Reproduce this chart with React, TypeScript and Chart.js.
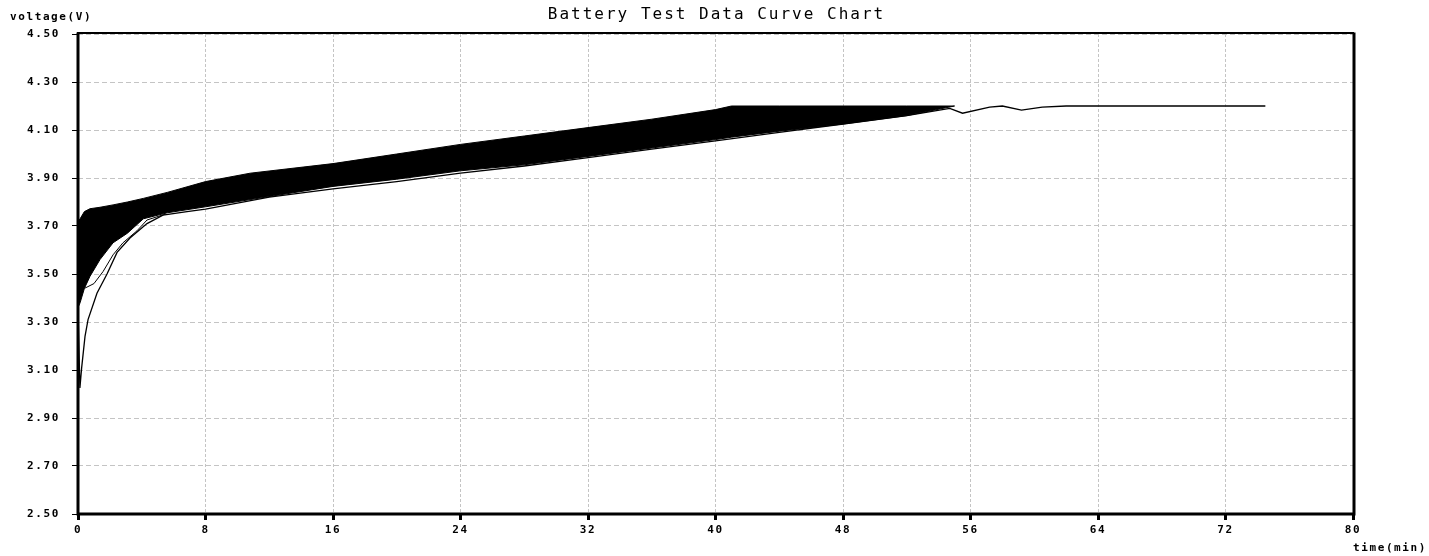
import React, { useEffect, useRef } from "react";
import { Chart, registerables } from "chart.js";

Chart.register(...registerables);

const chartTitle = "Battery Test Data Curve Chart";
const yAxisTitle = "voltage(V)";
const xAxisTitle = "time(min)";

// Dense band of many cells: upper and lower envelope
const bandTimes = [0, 0.13, 0.4, 0.75, 1.38, 2.2, 3.1, 4.1, 5.6, 8, 10.8, 16, 20, 24, 28, 32, 36, 40, 41, 44, 48, 52, 55];
const bandTop = [3.72, 3.73, 3.76, 3.772, 3.778, 3.788, 3.8, 3.815, 3.84, 3.885, 3.92, 3.96, 4.0, 4.04, 4.075, 4.11, 4.145, 4.185, 4.2, 4.2, 4.2, 4.2, 4.2];
const bandBottom = [3.36, 3.38, 3.44, 3.49, 3.56, 3.63, 3.67, 3.73, 3.755, 3.78, 3.81, 3.865, 3.895, 3.93, 3.955, 3.99, 4.025, 4.06, 4.07, 4.095, 4.125, 4.16, 4.2];

// Slowest cell curve (starts lowest)
const lowTimes = [0, 0.12, 0.23, 0.44, 0.63, 1.19, 1.82, 2.45, 3.26, 4.33, 5.33, 6.84, 8, 12, 16, 20, 24, 28, 32, 36, 40, 44, 48, 52, 54.7, 55.5, 57.2, 58, 59.2, 60.5, 62, 66, 70, 74.5];
const lowVolts = [3.36, 3.025, 3.11, 3.24, 3.31, 3.42, 3.5, 3.59, 3.65, 3.71, 3.745, 3.76, 3.77, 3.82, 3.855, 3.885, 3.92, 3.95, 3.985, 4.02, 4.055, 4.09, 4.125, 4.16, 4.19, 4.17, 4.195, 4.2, 4.183, 4.195, 4.2, 4.2, 4.2, 4.2];

// Second curve just below the band at the start
const innerTimes = [0.4, 1.0, 1.57, 2.2, 2.82, 3.7, 4.33, 5.5];
const innerVolts = [3.44, 3.46, 3.51, 3.58, 3.63, 3.68, 3.725, 3.75];

const yMin = 2.5;
const yMax = 4.5;
const yStep = 0.2;
const xMin = 0;
const xMax = 80;
const xStep = 8;

const zip = (xs: number[], ys: number[]) => xs.map((x, i) => ({ x, y: ys[i] }));

const MONO = '"DejaVu Sans Mono", "Liberation Mono", monospace';

export default function App() {
  const ref = useRef<HTMLCanvasElement | null>(null);

  useEffect(() => {
    if (!ref.current) return;
    const decor = {
      id: "decor",
      beforeDraw(chart: any) {
        const ctx = chart.ctx;
        ctx.fillStyle = "#ffffff";
        ctx.fillRect(0, 0, chart.width, chart.height);
        ctx.letterSpacing = "1.6px";
      },
      afterDraw(chart: any) {
        const ctx = chart.ctx;
        const a = chart.chartArea;
        ctx.save();
        ctx.strokeStyle = "#000";
        ctx.lineCap = "square";
        ctx.lineWidth = 2;
        ctx.beginPath();
        ctx.moveTo(a.left, a.top - 1);
        ctx.lineTo(a.right, a.top - 1);
        ctx.stroke();
        ctx.lineWidth = 3;
        ctx.beginPath();
        ctx.moveTo(a.left, a.top);
        ctx.lineTo(a.left, a.bottom);
        ctx.lineTo(a.right + 1, a.bottom);
        ctx.moveTo(a.right + 1, a.top);
        ctx.lineTo(a.right + 1, a.bottom);
        ctx.stroke();

        ctx.fillStyle = "#000";
        ctx.textBaseline = "middle";
        ctx.letterSpacing = "2px";
        ctx.font = `16px ${MONO}`;
        ctx.textAlign = "center";
        ctx.fillText(chartTitle, (a.left + a.right) / 2 + 1, 15);
        ctx.letterSpacing = "1.6px";
        ctx.font = `bold 11px ${MONO}`;
        ctx.textAlign = "left";
        ctx.fillText(yAxisTitle, 10, 17);
        ctx.fillText(xAxisTitle, a.right, 548);
        ctx.restore();
        ctx.letterSpacing = "0px";
      },
    };

    const chart = new Chart(ref.current, {
      type: "line",
      data: {
        datasets: [
          {
            label: "bandTop",
            data: zip(bandTimes, bandTop),
            borderColor: "#000",
            borderWidth: 1,
            pointRadius: 0,
            fill: false,
          },
          {
            label: "bandBottom",
            data: zip(bandTimes, bandBottom),
            borderColor: "#000",
            borderWidth: 1,
            pointRadius: 0,
            backgroundColor: "#000",
            fill: "-1",
          },
          {
            label: "inner",
            data: zip(innerTimes, innerVolts),
            borderColor: "#000",
            borderWidth: 1,
            pointRadius: 0,
            fill: false,
          },
          {
            label: "low",
            data: zip(lowTimes, lowVolts),
            borderColor: "#000",
            borderWidth: 1.3,
            pointRadius: 0,
            fill: false,
          },
        ],
      },
      options: {
        animation: false,
        responsive: false,
        events: [],
        layout: { padding: { left: 0, top: 34, right: 76, bottom: 0 } },
        plugins: { legend: { display: false }, tooltip: { enabled: false }, title: { display: false } },
        elements: { line: { tension: 0 } },
        scales: {
          x: {
            type: "linear",
            min: xMin,
            max: xMax,
            afterFit: (s: any) => {
              s.height = 42;
            },
            ticks: {
              stepSize: xStep,
              autoSkip: false,
              maxRotation: 0,
              padding: 4,
              color: "#000",
              font: { family: MONO, size: 11, weight: "bold" },
            },
            grid: {
              color: "#c4c4c4",
              lineWidth: 1,
              tickLength: 6,
              tickColor: "#000",
              tickWidth: 3,
              tickBorderDash: [],
            },
            border: { display: false, dash: [3, 2] },
          },
          y: {
            type: "linear",
            min: yMin,
            max: yMax,
            afterFit: (s: any) => {
              s.width = 78;
            },
            ticks: {
              stepSize: yStep,
              autoSkip: false,
              padding: 12,
              color: "#000",
              font: { family: MONO, size: 11, weight: "bold" },
              callback: (v: any) => Number(v).toFixed(2),
            },
            grid: {
              color: "#c4c4c4",
              lineWidth: 1,
              tickLength: 6,
              tickColor: "#000",
              tickWidth: 1,
              tickBorderDash: [],
            },
            border: { display: false, dash: [5, 3] },
          },
        },
      },
      plugins: [decor],
    } as any);
    return () => chart.destroy();
  }, []);

  return (
    <div style={{ position: "fixed", left: 0, top: 0, width: 1429, height: 556, background: "#fff" }}>
      <canvas ref={ref} width={1429} height={556} style={{ display: "block" }} />
    </div>
  );
}
